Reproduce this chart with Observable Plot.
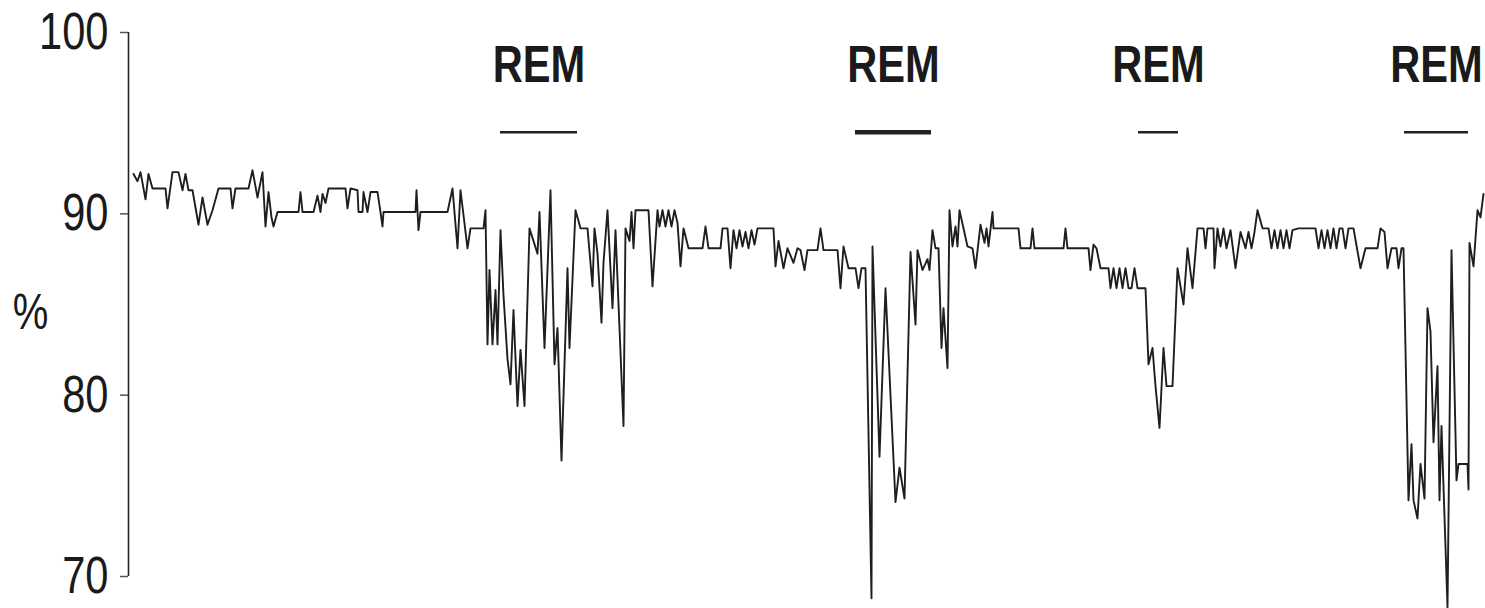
<!DOCTYPE html>
<html><head><meta charset="utf-8">
<script src="https://cdn.jsdelivr.net/npm/d3@7"></script>
<script src="https://cdn.jsdelivr.net/npm/@observablehq/plot@0.6"></script>
<style>body{margin:0;background:#fff}</style>
</head><body><div id="chart"></div>
<script>
// Oxygen saturation trace (sample index along the night, % SpO2)
const sampleIndex = [5,9,12,17,20,24,37,39,44,50,54,57,60,64,70,74,79,84,90,102,104,107,120,124,129,134,137,140,143,145,149,170,172,174,185,189,192,194,197,200,217,219,222,229,230,234,235,239,242,249,252,254,255,287,288,290,292,319,324,329,332,339,342,355,357,359,361,364,367,369,372,375,379,382,385,389,392,396,401,409,411,416,422,426,429,433,439,441,447,452,459,464,466,469,473,475,479,484,487,495,497,501,503,505,507,520,524,529,531,534,537,540,543,546,549,552,555,560,574,577,580,592,594,599,602,605,608,611,614,617,620,623,626,629,632,645,647,650,655,659,665,669,672,676,679,689,692,695,709,712,715,720,727,730,733,737,743,744,751,757,767,771,776,782,787,789,794,799,801,804,807,810,813,815,819,821,824,827,829,831,839,844,847,852,856,858,860,864,865,890,892,902,904,906,935,937,939,960,962,965,968,972,980,982,985,988,991,994,997,1000,1003,1006,1009,1017,1020,1024,1027,1031,1035,1038,1044,1049,1055,1059,1064,1069,1075,1077,1079,1085,1086,1089,1092,1095,1098,1102,1107,1112,1117,1120,1123,1126,1129,1134,1140,1143,1146,1149,1152,1155,1158,1161,1164,1170,1187,1190,1193,1196,1199,1202,1205,1208,1211,1214,1217,1220,1225,1232,1237,1249,1252,1256,1259,1263,1268,1270,1273,1275,1280,1283,1285,1289,1292,1296,1299,1302,1305,1309,1311,1313,1319,1323,1328,1330,1339,1340,1341,1345,1349,1352,1355];
const spo2 = [92.2,91.8,92.3,90.8,92.2,91.4,91.4,90.3,92.3,92.3,91.3,92.2,91.3,91.3,89.4,90.9,89.4,90.2,91.4,91.4,90.3,91.4,91.4,92.4,90.9,92.3,89.3,91.2,89.8,89.3,90.1,90.1,91.2,90.1,90.1,91.0,90.1,91.1,90.6,91.4,91.4,90.3,91.4,91.3,90.1,90.1,91.2,90.1,91.2,91.2,90.1,89.3,90.1,90.1,91.3,89.1,90.1,90.1,91.4,88.1,91.3,88.1,89.2,89.2,90.2,82.8,86.9,82.8,85.8,82.8,89.1,85.5,82.0,80.6,84.7,79.4,82.5,79.4,89.2,87.8,90.1,82.6,91.3,81.7,83.7,76.4,87.0,82.6,90.2,89.2,89.2,86.0,89.2,87.8,84.0,87.3,90.2,84.8,89.1,78.3,89.2,88.5,90.1,88.1,90.2,90.2,86.0,90.2,89.3,90.2,89.3,90.2,89.3,90.2,89.5,87.1,89.2,88.1,88.1,89.3,88.1,88.1,89.2,89.2,87.0,89.1,88.1,89.1,88.2,89.0,88.1,89.1,88.3,89.2,89.2,89.2,87.1,88.5,87.0,88.1,87.3,88.1,88.0,86.9,88.0,88.0,89.2,88.0,88.0,85.9,88.2,87.0,87.0,85.9,87.0,87.0,68.8,88.2,76.6,85.9,74.1,76.0,74.3,87.9,83.9,88.0,86.9,87.5,86.9,89.1,88.1,88.1,82.6,84.8,81.5,90.2,88.2,89.3,88.2,90.2,88.2,88.1,87.0,89.4,88.4,89.2,88.2,90.1,89.2,89.2,88.1,88.1,89.2,88.1,88.1,89.2,88.1,88.1,86.9,88.3,88.1,87.0,87.0,85.9,87.0,85.9,87.0,85.9,87.0,85.9,85.9,87.0,85.9,85.9,81.7,82.6,80.5,78.2,82.6,80.5,80.5,87.0,85.0,88.1,85.9,89.2,89.2,88.1,89.2,89.2,87.0,89.2,88.2,89.2,88.1,89.1,87.0,89.0,88.1,89.0,88.1,89.0,90.2,89.2,89.2,88.1,89.1,88.1,89.1,88.1,89.1,88.1,89.1,89.2,89.2,88.1,89.1,88.1,89.1,88.1,89.2,88.1,89.2,89.2,88.1,89.2,89.2,87.0,88.1,88.1,89.2,89.0,87.0,88.1,88.1,87.0,88.1,88.1,74.2,77.3,74.2,73.2,76.2,74.3,84.8,83.5,77.4,81.6,74.2,78.3,68.3,88.0,75.3,76.2,76.2,74.8,88.4,87.1,90.2,89.8,91.1];

// REM periods (sample index)
const remLabels = ["REM", "REM", "REM", "REM"];
const remStart = [372, 727, 1010, 1276];
const remEnd = [449, 803, 1050, 1340];
const remBold = [false, true, false, false];

const yTicks = [70, 80, 90, 100];
const yLabel = "%";
const xDomain = [0, 1357];
const yDomain = [70, 100];

const trace = sampleIndex.map((t, i) => ({t, v: spo2[i]}));
const rem = remLabels.map((label, i) => ({label, start: remStart[i], end: remEnd[i], mid: (remStart[i] + remEnd[i]) / 2, bold: remBold[i]}));

const font = "'Liberation Sans', Arial, sans-serif";

const chart = Plot.plot({
  width: 1485,
  height: 608,
  marginLeft: 128,
  marginRight: 0,
  marginTop: 32,
  marginBottom: 32,
  style: {fontFamily: font, color: "#1a1a1a", background: "#fff", overflow: "visible"},
  x: {domain: xDomain, axis: null},
  y: {domain: yDomain, axis: null},
  marks: [
    Plot.axisY({ticks: yTicks, tickSize: 8, tickPadding: 12, fontSize: 52, label: null, stroke: "#555", strokeWidth: 1.5, tickFormat: d => String(d)}),
    Plot.ruleX([0], {y1: yDomain[0], y2: yDomain[1], stroke: "#222", strokeWidth: 1.6}),
    Plot.line(trace, {x: "t", y: "v", stroke: "#1e1e1e", strokeWidth: 1.9}),
    Plot.ruleY(rem, {x1: "start", x2: "end", y: 94.5, stroke: "#222", strokeWidth: d => d.bold ? 4.5 : 2.5}),
    Plot.text(rem, {x: "mid", text: "label", frameAnchor: "top", dy: 13, fontSize: 52, fontWeight: "bold", fill: "#1a1a1a"}),
    Plot.text([yLabel], {frameAnchor: "left", dx: -98, dy: 8, fontSize: 50, textAnchor: "middle", fill: "#1a1a1a"})
  ]
});
document.getElementById("chart").appendChild(chart);
// condense glyphs horizontally, like a narrow typeface
chart.querySelectorAll("text").forEach(t => {
  const w = t.getComputedTextLength();
  if (w > 0) {
    t.setAttribute("textLength", (w * 0.8).toFixed(1));
    t.setAttribute("lengthAdjust", "spacingAndGlyphs");
  }
});
</script>
</body></html>
